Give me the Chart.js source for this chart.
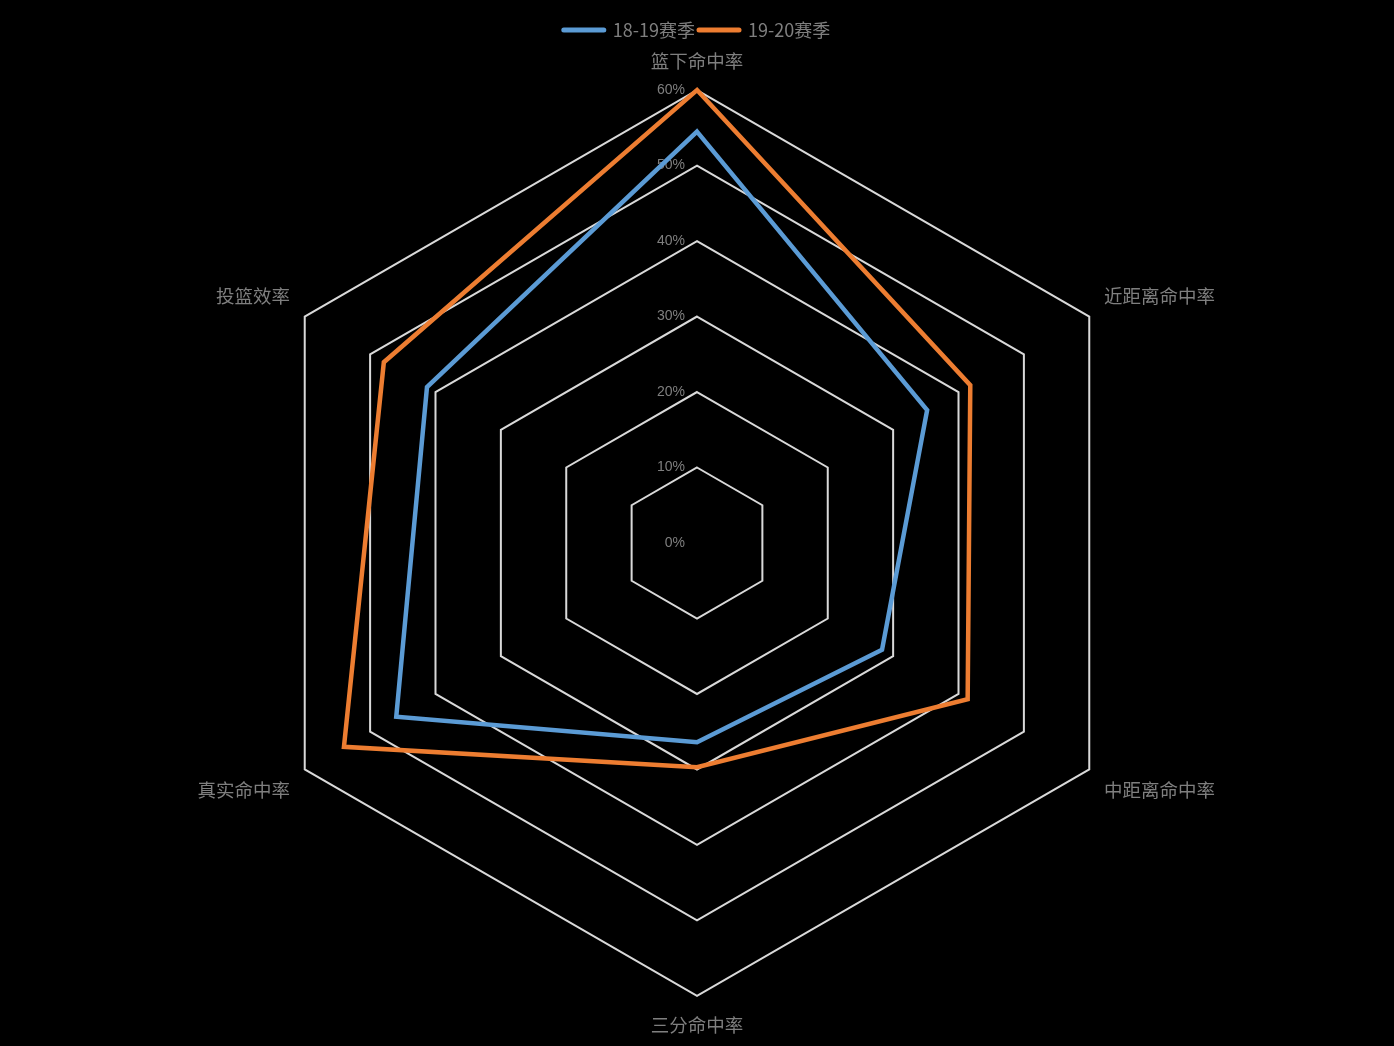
<!DOCTYPE html>
<html>
<head>
<meta charset="utf-8">
<script src="https://cdn.jsdelivr.net/npm/chart.js@4/dist/chart.umd.min.js"></script>
<style>
  html, body { margin: 0; padding: 0; background: #000; }
  #wrap { width: 1394px; height: 1046px; background: #000; }
</style>
</head>
<body>
<div id="wrap"><canvas id="c" width="1394" height="1046"></canvas></div>
<script>
const categories = ['篮下命中率', '近距离命中率', '中距离命中率', '三分命中率', '真实命中率', '投篮效率'];
const season1819 = [54.5, 35.2, 28.3, 26.4, 46.0, 41.3];
const season1920 = [60.0, 41.8, 41.4, 29.7, 54.0, 47.9];
const seriesNames = ['18-19赛季', '19-20赛季'];
const tickValues = [0, 10, 20, 30, 40, 50, 60];

const textColor = '#7f7f7f';
const fontFamily = '"Noto Sans CJK SC", "Liberation Sans", sans-serif';

const tickPlugin = {
  id: 'leftTicks',
  beforeDatasetsDraw(chart) {
    const s = chart.scales.r;
    const ctx = chart.ctx;
    ctx.save();
    ctx.font = '14px "Liberation Sans", "Noto Sans CJK SC", sans-serif';
    ctx.fillStyle = textColor;
    ctx.textAlign = 'right';
    ctx.textBaseline = 'middle';
    tickValues.forEach(v => {
      const d = s.getDistanceFromCenterForValue(v);
      ctx.fillText(v + '%', s.xCenter - 12, s.yCenter - d);
    });
    ctx.restore();
  }
};

new Chart(document.getElementById('c'), {
  type: 'radar',
  data: {
    labels: categories,
    datasets: [
      { label: seriesNames[0], data: season1819, borderColor: '#5B9BD5', backgroundColor: '#5B9BD5',
        borderWidth: 4.5, fill: false, pointRadius: 0, pointHoverRadius: 0, borderJoinStyle: 'miter' },
      { label: seriesNames[1], data: season1920, borderColor: '#ED7D31', backgroundColor: '#ED7D31',
        borderWidth: 4.5, fill: false, pointRadius: 0, pointHoverRadius: 0, borderJoinStyle: 'miter' }
    ]
  },
  options: {
    responsive: false,
    animation: false,
    layout: { padding: { top: 17, bottom: 8, left: 0, right: 0 } },
    plugins: {
      tooltip: { enabled: false },
      legend: {
        position: 'top',
        labels: {
          color: textColor,
          font: { size: 18, family: fontFamily },
          usePointStyle: true,
          pointStyleWidth: 40,
          padding: 4,
          generateLabels(chart) {
            const items = Chart.defaults.plugins.legend.labels.generateLabels(chart);
            items.forEach(it => { it.pointStyle = 'line'; it.lineCap = 'round'; it.lineWidth = 5; });
            return items;
          }
        }
      }
    },
    scales: {
      r: {
        min: 0,
        max: 60,
        ticks: { display: false, stepSize: 10 },
        angleLines: { display: false },
        grid: { circular: false, color: '#d9d9d9', lineWidth: 2 },
        pointLabels: {
          color: textColor,
          padding: 17,
          font: { size: 18.5, family: fontFamily, lineHeight: 1.3 }
        }
      }
    }
  },
  plugins: [tickPlugin]
});
</script>
</body>
</html>
